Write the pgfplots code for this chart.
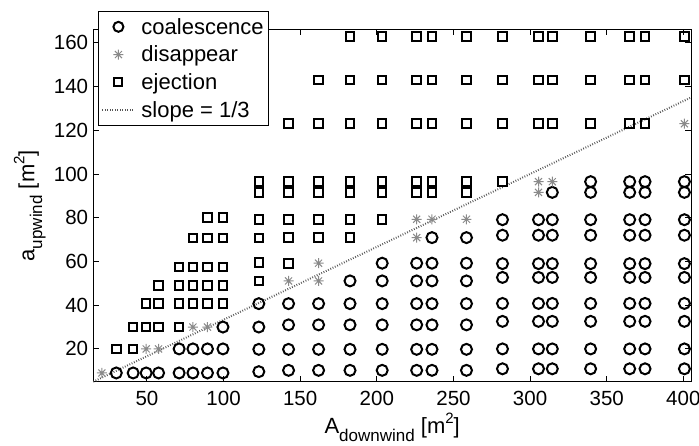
\documentclass[border=0pt]{standalone}
\usepackage{fontspec}
\setmainfont{Liberation Sans}
\usepackage{pgfplots}
\pgfplotsset{compat=1.18}

\newcommand\tickfont{\fontsize{20.5}{24}\selectfont}
\newcommand\legfont{\fontsize{22}{26}\selectfont}
\newcommand\labfont{\fontsize{22}{26}\selectfont}
\newcommand\sub[1]{\raisebox{-0.35em}{\fontsize{17}{18}\selectfont #1}}
\newcommand\sups[1]{\raisebox{0.45em}{\fontsize{15}{16}\selectfont #1}}

% eight-spoke asterisk
\pgfdeclareplotmark{mstar}{%
  \pgfpathmoveto{\pgfqpoint{-\pgfplotmarksize}{0pt}}%
  \pgfpathlineto{\pgfqpoint{\pgfplotmarksize}{0pt}}%
  \pgfpathmoveto{\pgfqpoint{0pt}{-\pgfplotmarksize}}%
  \pgfpathlineto{\pgfqpoint{0pt}{\pgfplotmarksize}}%
  \pgfpathmoveto{\pgfqpoint{-0.707\pgfplotmarksize}{-0.707\pgfplotmarksize}}%
  \pgfpathlineto{\pgfqpoint{0.707\pgfplotmarksize}{0.707\pgfplotmarksize}}%
  \pgfpathmoveto{\pgfqpoint{-0.707\pgfplotmarksize}{0.707\pgfplotmarksize}}%
  \pgfpathlineto{\pgfqpoint{0.707\pgfplotmarksize}{-0.707\pgfplotmarksize}}%
  \pgfusepathqstroke}

\definecolor{stargray}{HTML}{8A8A8A}
\definecolor{slopegray}{HTML}{555555}

\pgfplotsset{
  markleg/.style 2 args={legend image code/.code={%
      \path[draw=none, fill=none] (0pt,-5pt) rectangle (34pt,5pt);
      \draw[##1, mark size=#1, line width=#2] plot coordinates {(17pt,0pt)};}},
  lineleg/.style={legend image code/.code={%
      \path[draw=none, fill=none] (0pt,-5pt) rectangle (34pt,5pt);
      \draw[##1] (1pt,0pt) -- (33pt,0pt);}},
}

\begin{document}
\begin{tikzpicture}
\path[use as bounding box] (-93.3pt,-63.3pt) rectangle (605.7pt,381.7pt);
\begin{axis}[
  at={(0pt,0pt)}, anchor=south west,
  scale only axis, width=597.7pt, height=352pt,
  xmin=15, xmax=405, ymin=5, ymax=166,
  xtick={50,100,...,400}, ytick={20,40,...,160},
  tick align=inside, major tick length=5.7pt,
  axis line style={line width=0.9pt},
  every tick/.style={black, line width=0.9pt},
  tick label style={font=\tickfont, inner sep=0pt},
  xticklabel style={anchor=north, yshift=-9pt},
  yticklabel style={anchor=east, xshift=-5pt},
  /pgf/number format/assume math mode=true,
  xlabel={A\sub{downwind} [m\sups{2}]},
  ylabel={a\sub{upwind} [m\sups{2}]},
  label style={font=\labfont, inner sep=0pt},
  xlabel style={at={(axis description cs:0.5,0)}, anchor=base, yshift=-52pt},
  ylabel style={at={(axis description cs:-0.0987,0.5)}, anchor=base, rotate=0},
  clip=false,
  legend style={at={(axis description cs:0.0079,1.054)}, anchor=north west,
    draw=black, line width=0.8pt, fill=white, font=\legfont,
    inner xsep=3pt, inner ysep=5pt, row sep=6.3pt, column sep=4pt},
  legend cell align=left,
]
% coalescence
\addplot[only marks, mark=o, mark size=5.5pt, line width=2pt, black, markleg={5pt}{2pt}]
table[row sep=\\]{
x y\\
30 9\\ 41 9\\ 49.5 9\\ 57.6 9\\
71 9\\ 71 20\\ 80 9\\ 80 20\\ 89.5 9\\ 89.5 20\\
99.6 9\\ 99.6 20\\ 99.6 30\\
123 9.6\\ 123 19.8\\ 123 30\\ 123 40.7\\
142.4 10.2\\ 142.4 19.8\\ 142.4 31\\ 142.4 40.7\\
162 10.2\\ 162 19.8\\ 162 31\\ 162 40.7\\
182.5 10.2\\ 182.5 19.8\\ 182.5 31\\ 182.5 40.7\\ 182.5 51.1\\
203.5 10.2\\ 203.5 19.8\\ 203.5 31\\ 203.5 40.7\\ 203.5 51.1\\ 203.5 59.2\\
226 10.2\\ 226 19.8\\ 226 31\\ 226 40.7\\ 226 51.1\\ 226 59.2\\
236 10.2\\ 236 19.8\\ 236 31\\ 236 40.7\\ 236 51.1\\ 236 59.2\\ 236 70.9\\
258.5 10.2\\ 258.5 19.8\\ 258.5 31\\ 258.5 40.7\\ 258.5 51.1\\ 258.5 59.2\\ 258.5 70.9\\
282 10.9\\ 282 20\\ 282 32.6\\ 282 40.8\\ 282 52.7\\ 282 59\\ 282 72\\ 282 79.1\\
305.5 10.9\\ 305.5 20\\ 305.5 32.6\\ 305.5 40.8\\ 305.5 52.7\\ 305.5 59\\ 305.5 72\\ 305.5 79.1\\
314.5 10.9\\ 314.5 20\\ 314.5 32.6\\ 314.5 40.8\\ 314.5 52.7\\ 314.5 59\\ 314.5 72\\ 314.5 79.1\\ 314.5 91.6\\
339.5 10.9\\ 339.5 20\\ 339.5 32.6\\ 339.5 40.8\\ 339.5 52.7\\ 339.5 59\\ 339.5 72\\ 339.5 79.1\\ 339.5 91.6\\ 339.5 96.5\\
365 10.9\\ 365 20\\ 365 32.6\\ 365 40.8\\ 365 52.7\\ 365 59\\ 365 72\\ 365 79.1\\ 365 91.6\\ 365 96.5\\
375 10.9\\ 375 20\\ 375 32.6\\ 375 40.8\\ 375 52.7\\ 375 59\\ 375 72\\ 375 79.1\\ 375 91.6\\ 375 96.5\\
400.7 10.9\\ 400.7 20\\ 400.7 32.6\\ 400.7 40.8\\ 400.7 52.7\\ 400.7 59\\ 400.7 72\\ 400.7 79.1\\ 400.7 91.6\\ 400.7 96.5\\
};
\addlegendentry{coalescence}
% disappear
\addplot[only marks, mark=mstar, mark size=5pt, line width=1pt, stargray, markleg={5pt}{1pt}]
table[row sep=\\]{
x y\\
20.6 9\\ 49.5 20\\ 57.6 20\\ 80 30\\ 89.5 30\\
142.4 51.1\\ 162 51.1\\ 162 59.2\\
226 70.9\\ 226 79.3\\ 236 79.3\\ 258.5 79.3\\
305.5 91.6\\ 305.5 96.5\\ 314.5 96.5\\ 400.7 123\\
};
\addlegendentry{disappear}
% ejection
\addplot[only marks, mark=square, mark size=4.3pt, line width=2pt, black, markleg={4pt}{2pt}]
table[row sep=\\]{
x y\\
30 20\\ 41 20\\ 41 30\\ 49.5 30\\ 49.5 40.7\\
57.6 30\\ 57.6 40.7\\ 57.6 49\\
71 30\\ 71 40.7\\ 71 49\\ 71 57.5\\
80 40.7\\ 80 49\\ 80 57.5\\ 80 70.7\\
89.5 40.7\\ 89.5 49\\ 89.5 57.5\\ 89.5 70.7\\ 89.5 80\\
99.6 40.7\\ 99.6 49\\ 99.6 57.5\\ 99.6 70.7\\ 99.6 80\\
123 51\\ 123 59.5\\ 123 70.7\\ 123 79.3\\ 123 91.5\\ 123 96.5\\
142.4 59.2\\ 142.4 70.9\\ 142.4 79.3\\ 142.4 91.5\\ 142.4 96.5\\ 142.4 123\\
162 70.9\\ 162 79.3\\ 162 91.5\\ 162 96.5\\ 162 123\\ 162 143\\
182.5 70.9\\ 182.5 79.3\\ 182.5 91.5\\ 182.5 96.5\\ 182.5 123\\ 182.5 143\\ 182.5 163\\
203.5 79.3\\ 203.5 91.5\\ 203.5 96.5\\ 203.5 123\\ 203.5 143\\ 203.5 163\\
226 91.5\\ 226 96.5\\ 226 123\\ 226 143\\ 226 163\\
236 91.5\\ 236 96.5\\ 236 123\\ 236 143\\ 236 163\\
258.5 91.5\\ 258.5 96.5\\ 258.5 123\\ 258.5 143\\ 258.5 163\\
282 96.5\\ 282 123\\ 282 143\\ 282 163\\
305.5 123\\ 305.5 143\\ 305.5 163\\
314.5 123\\ 314.5 143\\ 314.5 163\\
339.5 123\\ 339.5 143\\ 339.5 163\\
365 123\\ 365 143\\ 365 163\\
375 123\\ 375 143\\ 375 163\\
400.7 143\\ 400.7 163\\
};
\addlegendentry{ejection}
% reference line a = A/3
\addplot[slopegray, line width=2pt, dash pattern=on 0.8pt off 1.7pt, lineleg]
table[row sep=\\]{
x y\\
15 5\\
405 135\\
};
\addlegendentry{slope = 1/3}
\end{axis}
\end{tikzpicture}
\end{document}
